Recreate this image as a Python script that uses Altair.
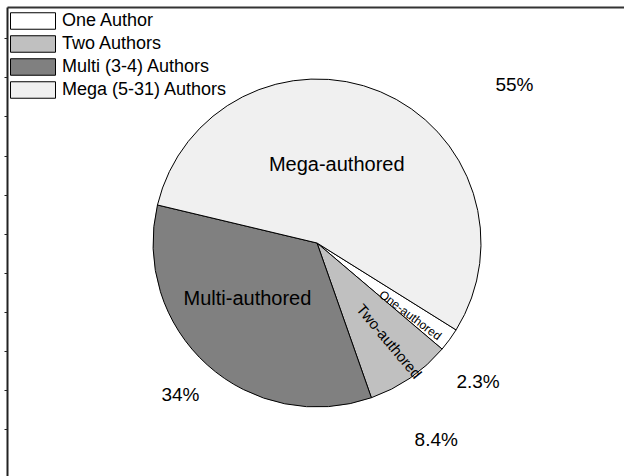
import math
import altair as alt
import pandas as pd

# Authorship shares (percent of papers)
categories = ["One Author", "Two Authors", "Multi (3-4) Authors", "Mega (5-31) Authors"]
short_names = ["One-authored", "Two-authored", "Multi-authored", "Mega-authored"]
shares = [2.3, 8.4, 34, 55]
fills = ["#ffffff", "#c0c0c0", "#808080", "#f0f0f0"]

# decorative left-frame tick positions (no labels)
frame_ticks = [1.2, 2.2, 3.2, 4.2, 5.2, 6.2, 7.2, 8.2, 9.2, 10.2, 11.2]

df = pd.DataFrame({
    "category": categories,
    "name": short_names,
    "share": shares,
    "rank": list(range(len(categories))),
})

FONT = "Liberation Sans"
W, H = 617, 469
CX, CY = 310, 236          # pie centre inside the plot area
R = 164
start = math.radians(122)
total = sum(shares)

theta_scale = alt.Scale(domain=[0, total], range=[start, start + 2 * math.pi])

color = alt.Color(
    "category:N",
    scale=alt.Scale(domain=categories, range=fills),
    legend=alt.Legend(
        title=None,
        orient="none",
        legendX=3,
        legendY=5,
        padding=0,
        symbolType="M-1,-0.366L1,-0.366L1,0.366L-1,0.366Z",
        symbolSize=2025,
        symbolStrokeColor="black",
        symbolStrokeWidth=1,
        symbolOpacity=1,
        labelFont=FONT,
        labelFontSize=18,
        labelColor="black",
        labelOffset=6,
        clipHeight=18,
        rowPadding=5,
        labelLimit=400,
    ),
)

# frame: top line and left line with small outward ticks
frame = alt.Chart(df).mark_point(opacity=0).encode(
    x=alt.XDatum(0, type="quantitative", scale=alt.Scale(domain=[0, 1], nice=False),
                 axis=alt.Axis(orient="top", ticks=False, labels=False, title=None,
                               grid=False, domainColor="#333333", domainWidth=2)),
    y=alt.YDatum(0, type="quantitative", scale=alt.Scale(domain=[0, 12], nice=False),
                 axis=alt.Axis(values=frame_ticks, labels=False, title=None, grid=False,
                               tickSize=3, tickColor="#222222", tickWidth=1,
                               domainColor="#222222", domainWidth=2)),
)

pie = alt.Chart(df).mark_arc(radius=R, stroke="black", strokeWidth=1).encode(
    theta=alt.Theta("share:Q", stack=True, scale=theta_scale),
    color=color,
    order=alt.Order("rank:Q"),
    x=alt.value(CX),
    y=alt.value(CY),
)

base = alt.Chart(df).transform_window(
    cum="sum(share)", sort=[alt.SortField("rank")], frame=[None, 0]
).transform_calculate(
    mid="datum.cum - datum.share / 2",
    pct="datum.share + '%'",
)


def label(rank, field, radius, offset_deg, size, angle=0):
    return base.transform_filter(alt.datum.rank == rank).mark_text(
        radius=radius,
        thetaOffset=math.radians(offset_deg),
        angle=angle,
        font=FONT,
        fontSize=size,
        color="black",
        align="center",
        baseline="middle",
    ).encode(
        theta=alt.Theta("mid:Q", stack=False, scale=theta_scale),
        text=alt.Text(f"{field}:N"),
        x=alt.value(CX),
        y=alt.value(CY),
    )


labels = [
    # slice names inside the pie
    label(3, "name", 80, -8.4, 20),
    label(2, "name", 89, 9.4, 20),
    label(1, "name", 122, -1.6, 15, 50),
    label(0, "name", 118, 1.6, 12, 37),
    # percentages outside
    label(3, "pct", 253, 28.6, 19),
    label(2, "pct", 204, 0, 19),
    label(1, "pct", 230, 3.3, 19),
    label(0, "pct", 213, 4.7, 19),
]

chart = alt.layer(frame, pie, *labels).properties(
    width=W,
    height=H,
    autosize=alt.AutoSizeParams(type="none"),
    padding={"left": 7, "top": 7, "right": 0, "bottom": 0},
    background="white",
).configure_view(stroke=None)

chart.save("out.html", embed_options={"renderer": "svg", "actions": False})
